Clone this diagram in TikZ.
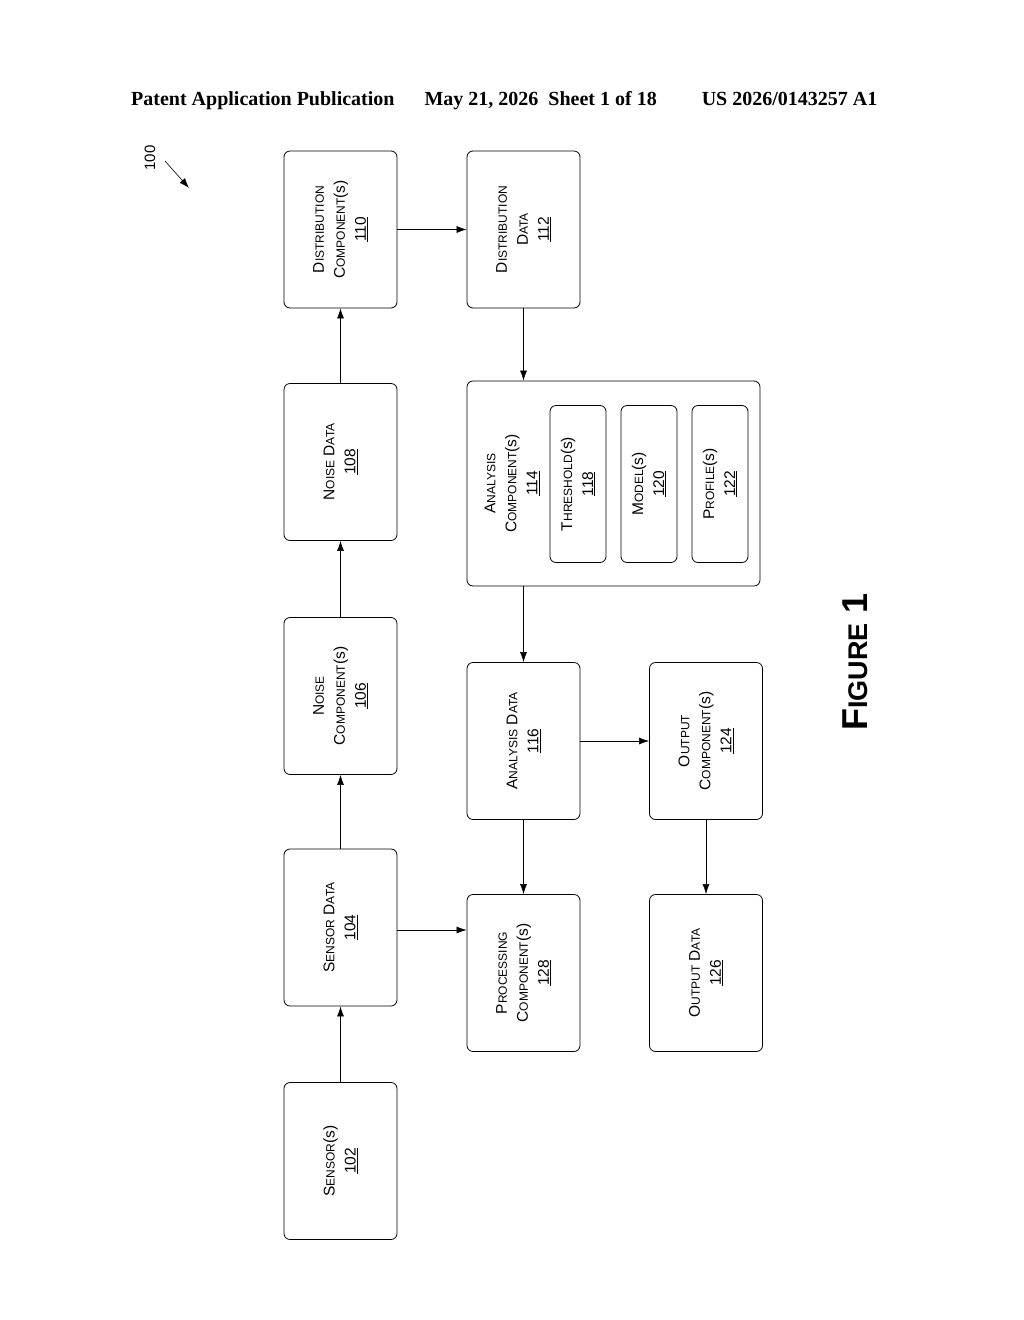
\documentclass[tikz,border=0pt]{standalone}
\usepackage{fontspec}
\setmainfont{Liberation Sans}
\newfontfamily\hdrfont{Liberation Serif}
\usetikzlibrary{arrows.meta,shapes}
\newcommand{\sm}[2]{#1{\fontsize{12}{21}\selectfont #2}}
\tikzstyle{block}=[draw,thick,rounded corners=6pt,rotate=90,align=center,
  minimum width=157pt,minimum height=113pt,inner sep=2pt,
  font=\fontsize{15.5}{21}\selectfont]
\tikzstyle{inner block}=[block,minimum height=56pt]
\tikzstyle{link}=[draw,semithick,-{Latex[length=10pt,width=7pt]}]

\begin{document}
\begin{tikzpicture}[x=1pt,y=-1pt]
    \useasboundingbox (0,0) rectangle (1024,1320);
    % header line
    \node[font=\hdrfont\bfseries\fontsize{20}{22}\selectfont,anchor=west,inner sep=0pt] (hdr) at (131,101)
        {Patent Application\hspace{5pt}Publication\hspace{30pt}May 21, 2026\hspace{10pt}Sheet 1 of 18\hspace{45pt}US 2026/0143257 A1};
    \node[rotate=90,font=\fontsize{15}{16}\selectfont] (ref) at (150,158) {100};
    \coordinate (refend) at (189,188);
    \draw[-{Latex[length=10pt,width=7pt]},semithick] (165,161) -- (refend);

    % first column
    \node[block] (102) at (340.5,1161) {\sm{S}{ENSOR}(s)\\\underline{102}};
    \node[block] (104) at (340.5,927.5) {\sm{S}{ENSOR} \sm{D}{ATA}\\\underline{104}};
    \node[block] (106) at (340.5,696) {\sm{N}{OISE}\\\sm{C}{OMPONENT}(s)\\\underline{106}};
    \node[block] (108) at (340.5,462) {\sm{N}{OISE} \sm{D}{ATA}\\\underline{108}};
    \node[block] (110) at (340.5,229.5) {\sm{D}{ISTRIBUTION}\\\sm{C}{OMPONENT}(s)\\\underline{110}};

    % second column
    \node[block] (112) at (523.5,229.5) {\sm{D}{ISTRIBUTION}\\\sm{D}{ATA}\\\underline{112}};
    \node[block,minimum width=205pt,minimum height=293pt] (114) at (613.5,483.5) {};
    \node[rotate=90,align=center,font=\fontsize{15.5}{21}\selectfont] (114txt) at (512,483.5)
        {\sm{A}{NALYSIS}\\\sm{C}{OMPONENT}(s)\\\underline{114}};
    \node[inner block] (118) at (578,484) {\sm{T}{HRESHOLD}(s)\\\underline{118}};
    \node[inner block] (120) at (649,484) {\sm{M}{ODEL}(s)\\\underline{120}};
    \node[inner block] (122) at (720,484) {\sm{P}{ROFILE}(s)\\\underline{122}};
    \node[block] (116) at (523.5,741) {\sm{A}{NALYSIS} \sm{D}{ATA}\\\underline{116}};
    \node[block] (128) at (523.5,973) {\sm{P}{ROCESSING}\\\sm{C}{OMPONENT}(s)\\\underline{128}};

    % third column
    \node[block] (124) at (706,741) {\sm{O}{UTPUT}\\\sm{C}{OMPONENT}(s)\\\underline{124}};
    \node[block] (126) at (706,973) {\sm{O}{UTPUT} \sm{D}{ATA}\\\underline{126}};

    \node[rotate=90,font=\bfseries\fontsize{36}{38}\selectfont] (fig) at (855,662)
        {F{\fontsize{27}{30}\selectfont IGURE} 1};

    % connections
    \foreach \source/\dest in {102/104, 104/106, 106/108, 108/110}
        \path[link] (\source.east) -- (\dest.west);
    \path[link] (110.south) -- (112.north);
    \path[link] (112.west) -- (112.west |- 114.east);
    \path[link] (116.east |- 114.west) -- (116.east);
    \path[link] (116.west) -- (128.east);
    \path[link] ([yshift=-2.5pt]104.south) -- ([yshift=-2.5pt]104.south -| 128.north);
    \path[link] (116.south) -- (124.north);
    \path[link] (124.west) -- (126.east);
\end{tikzpicture}
\end{document}
